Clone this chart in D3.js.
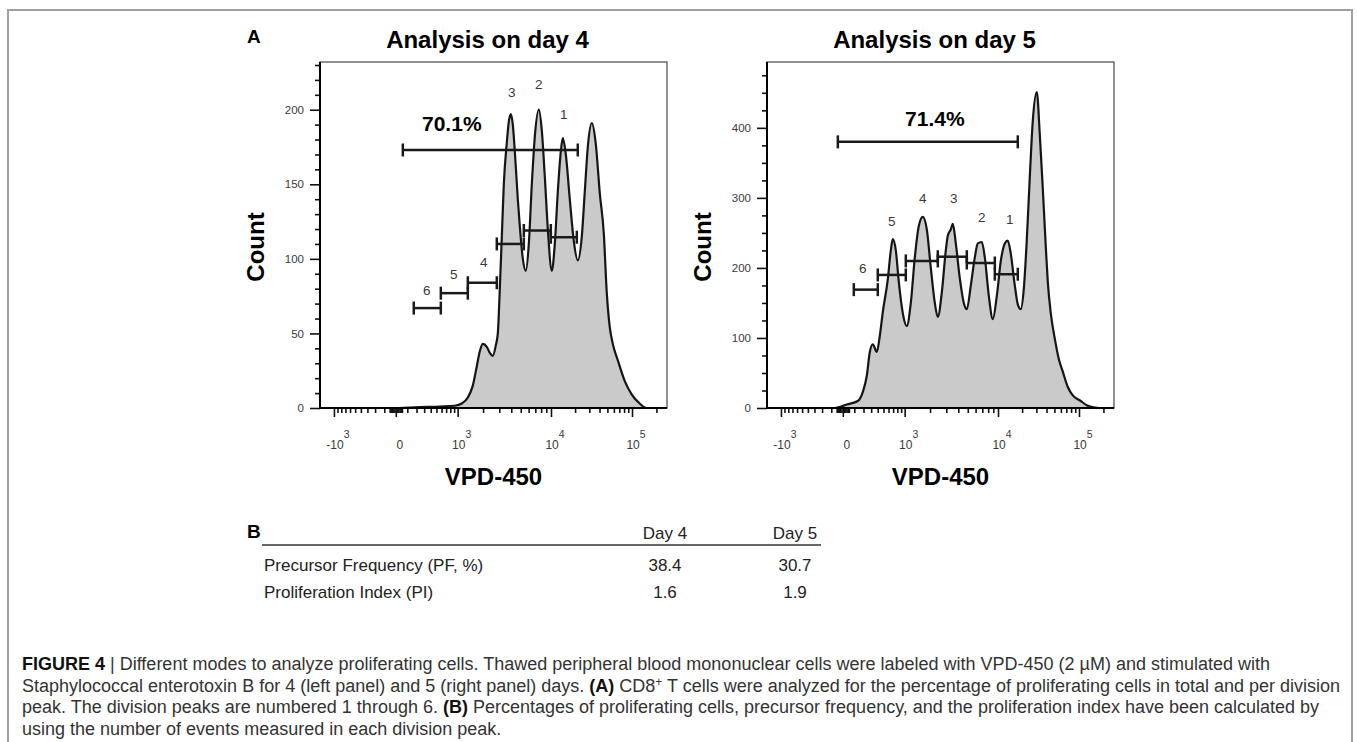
<!DOCTYPE html>
<html>
<head>
<meta charset="utf-8">
<script src="https://cdn.jsdelivr.net/npm/d3@7"></script>
<style>
body { margin: 0; background: #fff; }
text { font-family: "Liberation Sans", Arial, sans-serif; }
</style>
</head>
<body>
<script>
// ---- data (x = VPD-450 intensity, y = count) ----
const day4Hist = [[-1480,0],[32,0],[180,0.5],[564,1],[918,1.5],[1128,3],[1335,7],[1529,15],[1700,28],[1839,38],
  [1987,43],[2200,41],[2373,37],[2557,35],[2754,42],[2893,50],[3037,80],[3189,115],[3346,150],[3596,178],
  [3772,192],[3957,197],[4148,190],[4350,172],[4667,140],[4890,122],[5247,100],[5623,92],[6028,110],[6459,150],
  [6920,182],[7583,200],[8120,186],[8694,155],[9307,120],[10240,92],[11165,110],[12180,145],[13280,172],[14060,181],
  [15330,170],[17180,140],[19260,112],[21590,99],[24200,115],[26350,145],[28700,175],[32150,191],[36010,177],[40320,144],
  [45150,117],[49140,77],[53480,54],[58200,43],[67030,32],[81650,18],[99440,9],[124500,3],[151600,0],[270000,0]];

const day5Hist = [[-1480,0],[-67,0],[32,5],[136,10],[192,23],[241,46],[281,80],[324,91],[385,80],[435,103],
  [488,137],[585,184],[648,225],[692,241],[763,225],[838,180],[947,135],[1065,117],[1194,150],[1335,215],
  [1488,260],[1656,273],[1839,255],[2039,200],[2257,150],[2433,130],[2687,165],[2963,225],[3112,246],[3346,255],
  [3511,263],[3772,235],[4148,185],[4558,150],[4890,141],[5370,175],[5891,215],[6312,235],[6920,237],[7412,215],
  [8120,160],[8893,127],[9737,160],[10850,210],[12180,235],[13280,239],[14470,220],[16230,175],[17680,148],[19260,141],
  [20990,170],[22860,240],[24900,330],[27110,410],[30380,451],[33080,390],[36010,313],[39200,230],[41480,180],[45150,135],
  [50540,99],[56580,70],[63350,52],[72940,30],[83970,18],[105200,10],[124500,4],[151600,1],[179500,0],[270000,0]];

// gates: [from, to, count]; first one is the total proliferating gate
const day4Gates = [[58,21590,173],[168,585,67],[585,1335,77],[1335,2822,84],[2822,5370,110],[5370,9959,119],[9959,20990,114.5]];
const day5Gates = [[-40,17680,380],[95,401,169],[401,1034,190],[1034,2433,210],[2433,4890,216],[4890,9307,207],[9307,17680,191]];

// division peak labels: [label, x, count]
const day4Peaks = [['6',339,79],['5',891,90],['4',2039,98],['3',4051,212],['2',7583,217],['1',14470,197]];
const day5Peaks = [['6',192,200],['5',670,267],['4',1656,299],['3',3596,299],['2',6920,273],['1',14060,269]];

const day4Pct = ['70.1%', 838, 191];
const day5Pct = ['71.4%', 2257, 413];

const xTicks = [-1000, 0, 1000, 10000, 100000];
const xTickLabels = [['-10','3'],['0',''],['10','3'],['10','4'],['10','5']];
const day4YTicks = [0, 50, 100, 150, 200];
const day5YTicks = [0, 100, 200, 300, 400];

const tableCols = ['Day 4', 'Day 5'];
const tableRows = ['Precursor Frequency (PF, %)', 'Proliferation Index (PI)'];
const tableValues = [['38.4', '30.7'], ['1.6', '1.9']];

// ---- layout ----
const svgWidth = 1357, svgHeight = 742;
const plotW = 347, plotTop = 62, plotBottom = 408;
const xDomain = [-1480, 10000, 100000, 270000];

const svg = d3.select('body').append('svg')
    .attr('width', svgWidth)
    .attr('height', svgHeight);

svg.append('rect')
    .attr('x', 8).attr('y', 10)
    .attr('width', 1344).attr('height', 800)
    .attr('fill', 'none')
    .attr('stroke', '#a0a0a0')
    .attr('stroke-width', 2);

svg.append('text')
    .text('A')
    .attr('x', 247).attr('y', 43)
    .attr('font-size', 19).attr('font-weight', 'bold');

// minor tick values for the biexponential-like axis
const xMinor = [];
for (let v = 100; v < 1000; v += 100) { xMinor.push(v, -v); }
for (let v = 10; v <= 50; v += 10) { xMinor.push(v, -v); }
for (let v = 2000; v < 10000; v += 1000) xMinor.push(v);
for (let v = 20000; v < 100000; v += 10000) xMinor.push(v);
xMinor.push(200000);

const panels = [
    {x0: 320, title: 'Analysis on day 4', hist: day4Hist, yMax: 232, yTicks: day4YTicks, yStep: 10,
     gates: day4Gates, peaks: day4Peaks, pct: day4Pct},
    {x0: 767, title: 'Analysis on day 5', hist: day5Hist, yMax: 494, yTicks: day5YTicks, yStep: 25,
     gates: day5Gates, peaks: day5Peaks, pct: day5Pct}
];

panels.forEach(function(p) {
    const x = d3.scaleSymlog().constant(350)
        .domain(xDomain)
        .range([p.x0, p.x0 + 231, p.x0 + 312, p.x0 + plotW]);
    const y = d3.scaleLinear().domain([0, p.yMax]).range([plotBottom, plotTop]);
    const g = svg.append('g');

    // histogram
    const area = d3.area()
        .x(d => x(d[0]))
        .y0(y(0))
        .y1(d => y(d[1]))
        .curve(d3.curveMonotoneX);
    g.append('path')
        .datum(p.hist)
        .attr('d', area)
        .attr('fill', '#cacaca');
    g.append('path')
        .datum(p.hist)
        .attr('d', area.lineY1())
        .attr('fill', 'none')
        .attr('stroke', '#151515')
        .attr('stroke-width', 2.2);

    // frame
    g.append('rect')
        .attr('x', p.x0).attr('y', plotTop)
        .attr('width', plotW).attr('height', plotBottom - plotTop)
        .attr('fill', 'none')
        .attr('stroke', '#555')
        .attr('stroke-width', 1.3);

    // y axis
    const yMinor = d3.range(0, p.yMax, p.yStep).filter(v => p.yTicks.indexOf(v) < 0);
    const yMinorAxis = g.append('g')
        .attr('transform', `translate(${p.x0},0)`)
        .call(d3.axisLeft(y).tickValues(yMinor).tickSize(5).tickFormat(''));
    const yAxis = g.append('g')
        .attr('transform', `translate(${p.x0},0)`)
        .call(d3.axisLeft(y).tickValues(p.yTicks).tickSize(10).tickPadding(6).tickFormat(d3.format('d')));
    yAxis.selectAll('text')
        .attr('font-family', 'DejaVu Sans')
        .attr('font-size', 11.5)
        .attr('fill', '#3a3a3a');

    // x axis
    const xMinorAxis = g.append('g')
        .attr('transform', `translate(0,${plotBottom})`)
        .call(d3.axisBottom(x).tickValues(xMinor).tickSize(5).tickFormat(''));
    const xAxis = g.append('g')
        .attr('transform', `translate(0,${plotBottom})`)
        .call(d3.axisBottom(x).tickValues(xTicks).tickSize(9).tickFormat(''));

    [yMinorAxis, yAxis, xMinorAxis, xAxis].forEach(function(a) {
        a.select('.domain').remove();
        a.selectAll('line').attr('stroke', '#111').attr('stroke-width', 1.6);
    });

    g.append('line')
        .attr('x1', p.x0).attr('x2', p.x0)
        .attr('y1', plotTop).attr('y2', plotBottom + 1)
        .attr('stroke', '#000').attr('stroke-width', 2);
    g.append('line')
        .attr('x1', p.x0 - 1).attr('x2', p.x0 + plotW)
        .attr('y1', plotBottom).attr('y2', plotBottom)
        .attr('stroke', '#000').attr('stroke-width', 2);

    const xLab = g.selectAll('.xlab')
        .data(xTicks)
        .enter()
        .append('text')
        .attr('class', 'xlab')
        .attr('x', d => x(d) + 4)
        .attr('y', plotBottom + 41)
        .attr('text-anchor', 'middle')
        .attr('font-family', 'DejaVu Sans')
        .attr('font-size', 12)
        .attr('fill', '#3a3a3a');
    xLab.append('tspan').text((d, i) => xTickLabels[i][0]);
    xLab.append('tspan')
        .text((d, i) => xTickLabels[i][1])
        .attr('dy', -11)
        .attr('font-size', 10.5);

    // titles
    g.append('text')
        .text(p.title)
        .attr('x', p.x0 + plotW / 2 - 6)
        .attr('y', 48)
        .attr('text-anchor', 'middle')
        .attr('font-size', 24)
        .attr('font-weight', 'bold');

    g.append('text')
        .text('Count')
        .attr('transform', `translate(${p.x0 - 56},${(plotTop + plotBottom) / 2 + 12}) rotate(-90)`)
        .attr('text-anchor', 'middle')
        .attr('font-size', 24)
        .attr('font-weight', 'bold');

    g.append('text')
        .text('VPD-450')
        .attr('x', p.x0 + plotW / 2)
        .attr('y', 485)
        .attr('text-anchor', 'middle')
        .attr('font-size', 24)
        .attr('font-weight', 'bold');

    // gates
    const gate = g.selectAll('.gate')
        .data(p.gates)
        .enter()
        .append('g')
        .attr('class', 'gate')
        .attr('stroke', '#1a1a1a')
        .attr('stroke-width', 2.5);
    gate.append('line')
        .attr('x1', d => x(d[0])).attr('x2', d => x(d[1]))
        .attr('y1', d => y(d[2])).attr('y2', d => y(d[2]));
    gate.append('line')
        .attr('x1', d => x(d[0])).attr('x2', d => x(d[0]))
        .attr('y1', d => y(d[2]) - 6.5).attr('y2', d => y(d[2]) + 6.5);
    gate.append('line')
        .attr('x1', d => x(d[1])).attr('x2', d => x(d[1]))
        .attr('y1', d => y(d[2]) - 6.5).attr('y2', d => y(d[2]) + 6.5);

    g.selectAll('.peak')
        .data(p.peaks)
        .enter()
        .append('text')
        .attr('class', 'peak')
        .text(d => d[0])
        .attr('x', d => x(d[1]))
        .attr('y', d => y(d[2]))
        .attr('dy', '0.36em')
        .attr('text-anchor', 'middle')
        .attr('font-family', 'DejaVu Sans')
        .attr('font-size', 13.5)
        .attr('fill', '#3a3a3a');

    g.append('text')
        .text(p.pct[0])
        .attr('x', x(p.pct[1]))
        .attr('y', y(p.pct[2]))
        .attr('dy', '0.36em')
        .attr('text-anchor', 'middle')
        .attr('font-size', 21)
        .attr('font-weight', 'bold');
});

// ---- table B ----
svg.append('text')
    .text('B')
    .attr('x', 247).attr('y', 538)
    .attr('font-size', 19).attr('font-weight', 'bold');

const colX = [665, 795];
const table = svg.append('g').attr('font-size', 17).attr('fill', '#222');
table.selectAll('.colhead')
    .data(tableCols)
    .enter()
    .append('text')
    .text(d => d)
    .attr('x', (d, i) => colX[i])
    .attr('y', 539)
    .attr('text-anchor', 'middle');
table.append('line')
    .attr('x1', 262).attr('x2', 821)
    .attr('y1', 545).attr('y2', 545)
    .attr('stroke', '#333').attr('stroke-width', 1.5);
tableRows.forEach(function(r, i) {
    table.append('text')
        .text(r)
        .attr('x', 264)
        .attr('y', 571 + i * 27);
    table.selectAll('.v' + i)
        .data(tableValues[i])
        .enter()
        .append('text')
        .text(d => d)
        .attr('x', (d, j) => colX[j])
        .attr('y', 571 + i * 27)
        .attr('text-anchor', 'middle');
});

// ---- caption ----
const captionLines = [
    [['FIGURE 4', 'b'], [' | Different modes to analyze proliferating cells. Thawed peripheral blood mononuclear cells were labeled with VPD-450 (2 \u00b5M) and stimulated with', '']],
    [['Staphylococcal enterotoxin B for 4 (left panel) and 5 (right panel) days. ', ''], ['(A)', 'b'], [' CD8', ''], ['+', 's'], [' T cells were analyzed for the percentage of proliferating cells in total and per division', '']],
    [['peak. The division peaks are numbered 1 through 6. ', ''], ['(B)', 'b'], [' Percentages of proliferating cells, precursor frequency, and the proliferation index have been calculated by', '']],
    [['using the number of events measured in each division peak.', '']]
];

const caption = svg.append('g').attr('font-size', 18).attr('fill', '#333');
captionLines.forEach(function(line, i) {
    const t = caption.append('text')
        .attr('x', 22)
        .attr('y', 670 + i * 21.5);
    line.forEach(function(seg) {
        const s = t.append('tspan').text(seg[0]);
        if (seg[1] === 'b') s.attr('font-weight', 'bold').attr('fill', '#111');
        if (seg[1] === 's') s.attr('font-size', 12).attr('dy', -6);
        if (seg[0].startsWith(' T cells')) s.attr('dy', 6);
    });
});
</script>
</body>
</html>
